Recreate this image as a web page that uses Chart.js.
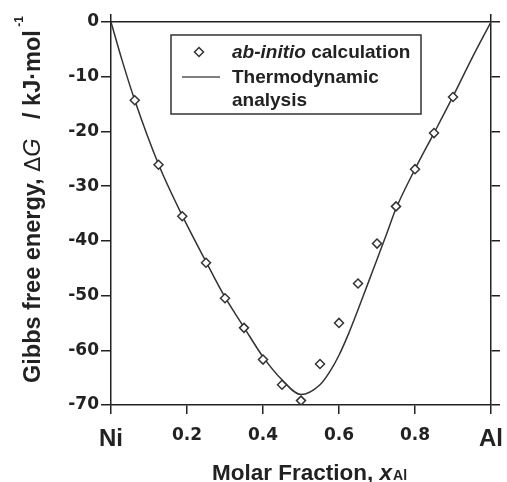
<!DOCTYPE html>
<html>
<head>
<meta charset="utf-8">
<script src="https://cdn.jsdelivr.net/npm/chart.js@4.4.0/dist/chart.umd.min.js"></script>
<style>
  body { margin: 0; background: #fff; }
  #wrap { width: 507px; height: 482px; position: relative; }
</style>
</head>
<body>
<div id="wrap"><canvas id="gibbsChart"></canvas></div>
<script>
// ab-initio points (molar fraction of Al, kJ/mol)
const calcX = [0.0625, 0.125, 0.1875, 0.25, 0.30, 0.35, 0.40, 0.45, 0.50, 0.55, 0.60, 0.65, 0.70, 0.75, 0.80, 0.85, 0.90];
const calcG = [-14.3, -26.1, -35.5, -44.0, -50.5, -55.9, -61.7, -66.3, -69.2, -62.5, -55.0, -47.8, -40.5, -33.7, -26.9, -20.3, -13.7];

// thermodynamic analysis curve
const curveX = [0, 0.03, 0.0625, 0.125, 0.1875, 0.25, 0.30, 0.35, 0.40, 0.45, 0.50, 0.55, 0.575, 0.60, 0.625, 0.65, 0.675, 0.70, 0.725, 0.75, 0.80, 0.85, 0.90, 0.95, 1.0];
const curveG = [0, -7.2, -14.3, -26.0, -35.4, -43.8, -50.3, -55.8, -61.2, -65.4, -68.1, -66.3, -64.0, -60.9, -57.0, -52.6, -48.0, -43.4, -38.8, -34.1, -26.9, -20.3, -13.6, -6.6, 0];

const xTicks = [0, 0.2, 0.4, 0.6, 0.8, 1.0];
const xTickLabels = ['Ni', '0.2', '0.4', '0.6', '0.8', 'Al'];

const ink = '#222';
const sans = '"Liberation Sans", Arial, sans-serif';

// titles and the boxed legend
const annotations = {
  id: 'annotations',
  afterDraw(chart) {
    const ctx = chart.ctx;
    ctx.save();
    ctx.fillStyle = ink;
    ctx.textBaseline = 'alphabetic';
    ctx.textAlign = 'left';

    // x title
    let x = 212;
    ctx.font = 'bold 22.5px ' + sans;
    ctx.fillText('Molar Fraction, ', x, 480);
    x += ctx.measureText('Molar Fraction, ').width;
    ctx.font = 'italic bold 22.5px ' + sans;
    ctx.fillText('x', x, 480);
    x += ctx.measureText('x').width + 1;
    ctx.font = 'bold 14px ' + sans;
    ctx.fillText('Al', x, 480);

    // y title (rotated)
    ctx.save();
    ctx.translate(40, 383);
    ctx.rotate(-Math.PI / 2);
    let p = 0;
    const seg = (txt, font, dy) => {
      ctx.font = font;
      ctx.fillText(txt, p, dy || 0);
      p += ctx.measureText(txt).width;
    };
    seg('Gibbs free energy, ', 'bold 23.5px ' + sans);
    seg('\u0394', '22px "DejaVu Sans", sans-serif');
    seg('G', 'italic 23.5px ' + sans);
    seg('   / kJ\u00b7mol', 'bold 23.5px ' + sans);
    seg(' -1', 'bold 12px ' + sans, -17);
    ctx.restore();

    // legend box
    ctx.strokeStyle = '#333';
    ctx.lineWidth = 1.5;
    ctx.strokeRect(171, 35, 250, 79);

    ctx.fillStyle = '#fff';
    ctx.beginPath();
    ctx.moveTo(199, 47.5); ctx.lineTo(203.5, 52); ctx.lineTo(199, 56.5); ctx.lineTo(194.5, 52); ctx.closePath();
    ctx.fill(); ctx.stroke();

    ctx.strokeStyle = '#555';
    ctx.lineWidth = 1.3;
    ctx.beginPath();
    ctx.moveTo(182, 77); ctx.lineTo(220, 77);
    ctx.stroke();

    ctx.fillStyle = ink;
    let lx = 232;
    ctx.font = 'italic bold 19px ' + sans;
    ctx.fillText('ab-initio', lx, 58);
    lx += ctx.measureText('ab-initio').width;
    ctx.font = 'bold 19px ' + sans;
    ctx.fillText(' calculation', lx, 58);
    ctx.fillText('Thermodynamic', 232, 83);
    ctx.fillText('analysis', 232, 106);
    ctx.restore();
  }
};

const frame = { color: ink, width: 1.5 };
const tickGrid = (len) => ({ drawOnChartArea: false, drawTicks: true, tickLength: len, color: ink, lineWidth: 1.5 });
// fixed sizes so the plot box lands where the reference has it
const fixH = (h) => (s) => { s.height = h; s.paddingLeft = 0; s.paddingRight = 0; };
const fixW = (w) => (s) => { s.width = w; s.paddingTop = 0; s.paddingBottom = 0; };

new Chart(document.getElementById('gibbsChart'), {
  type: 'scatter',
  data: {
    datasets: [{
      label: 'ab-initio calculation',
      data: calcX.map((v, i) => ({ x: v, y: calcG[i] })),
      pointStyle: 'rectRot',
      pointRadius: 4.5,
      pointBorderWidth: 1.5,
      borderColor: '#333',
      backgroundColor: '#fff',
      order: 0
    }, {
      label: 'Thermodynamic analysis',
      data: curveX.map((v, i) => ({ x: v, y: curveG[i] })),
      showLine: true,
      cubicInterpolationMode: 'monotone',
      borderColor: '#333',
      borderWidth: 1.5,
      pointRadius: 0,
      order: 1
    }]
  },
  options: {
    responsive: true,
    maintainAspectRatio: false,
    animation: false,
    layout: { padding: 0 },
    plugins: { legend: { display: false }, tooltip: { enabled: false } },
    scales: {
      x: {
        type: 'linear', position: 'bottom', min: 0, max: 1,
        afterBuildTicks: (s) => { s.ticks = xTicks.map(v => ({ value: v })); },
        afterFit: fixH(77),
        border: frame,
        grid: tickGrid(9),
        ticks: {
          color: ink,
          padding: 11,
          maxRotation: 0,
          autoSkip: false,
          callback: (v, i) => xTickLabels[i],
          font: (c) => (c.index === 0 || c.index === xTicks.length - 1)
            ? { family: sans, size: 24, weight: 'bold' }
            : { family: '"DejaVu Sans", sans-serif', size: 17, weight: 'bold' }
        }
      },
      x2: {
        type: 'linear', position: 'top', min: 0, max: 1,
        afterBuildTicks: (s) => { s.ticks = [{ value: 0 }, { value: 1 }]; },
        afterFit: fixH(22),
        border: frame,
        grid: tickGrid(8),
        ticks: { display: false }
      },
      y: {
        position: 'left', min: -70, max: 0,
        afterFit: fixW(111),
        border: frame,
        grid: tickGrid(10),
        ticks: {
          stepSize: 10,
          color: ink,
          padding: 2,
          font: { family: '"DejaVu Sans", sans-serif', size: 17, weight: 'bold' }
        }
      },
      y2: {
        position: 'right', min: -70, max: 0,
        afterFit: fixW(16),
        border: frame,
        grid: tickGrid(9),
        ticks: { stepSize: 10, display: false }
      }
    }
  },
  plugins: [annotations]
});
</script>
</body>
</html>
